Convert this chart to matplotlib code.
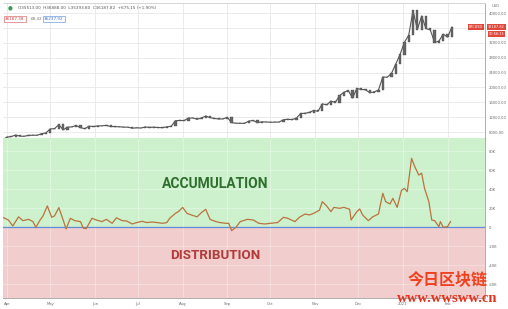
import numpy as np
import pandas as pd
import matplotlib
matplotlib.use("Agg")
import matplotlib.pyplot as plt
import matplotlib.dates as mdates

plt.rcParams['font.family'] = ['DejaVu Sans', 'Noto Sans CJK SC']

# BTCUSD closes, every 3 days from 2020-03-29
closes = [5880,
          6640, 6780, 7200, 6860, 6850, 7100, 7130, 7120, 7540, 7760,          # Apr
          8820, 8900, 9980, 8600, 9300, 9380, 9730, 9170, 8890, 9580, 9460,    # May
          9650, 9670, 9780, 9470, 9440, 9410, 9300, 9300, 9010, 9140,          # Jun
          9070, 9350, 9250, 9300, 9200, 9170, 9390, 9540, 11030, 11110,        # Jul
          11070, 11750, 11780, 11410, 11770, 12300, 11860, 11660, 11480, 11530,  # Aug
          11930, 10510, 10370, 10340, 10330, 10950, 11080, 10530, 10740, 10690,  # Sep
          10620, 10670, 10670, 11300, 11430, 11320, 11750, 12980, 13030, 13280, 13800,  # Oct
          13560, 15580, 15300, 16300, 15960, 17800, 18680, 19160, 17150, 19700,  # Nov
          19450, 19360, 18550, 18800, 19270, 22800, 22720, 23730, 26280, 28840,  # Dec
          32130, 34000, 40670, 35570, 39190, 35830, 35470, 32070, 32470, 34320,  # Jan
          33530, 36190]                                                        # Feb
price_dates = pd.date_range("2020-03-29", periods=len(closes), freq="3D")

# accumulation / distribution oscillator (thousands)
ind_dates = ["2020-03-29", "2020-04-02", "2020-04-05", "2020-04-09", "2020-04-12", "2020-04-16",
             "2020-04-19", "2020-04-21", "2020-04-24", "2020-04-26", "2020-04-29", "2020-05-02",
             "2020-05-04", "2020-05-07", "2020-05-10", "2020-05-12", "2020-05-15", "2020-05-18",
             "2020-05-22", "2020-05-24", "2020-05-26", "2020-05-30", "2020-06-02", "2020-06-06",
             "2020-06-09", "2020-06-13", "2020-06-16", "2020-06-20", "2020-06-23", "2020-06-27",
             "2020-06-30", "2020-07-04", "2020-07-07", "2020-07-11", "2020-07-14", "2020-07-18",
             "2020-07-21", "2020-07-23", "2020-07-27", "2020-07-29", "2020-08-01", "2020-08-04",
             "2020-08-07", "2020-08-11", "2020-08-14", "2020-08-17", "2020-08-20", "2020-08-24",
             "2020-08-27", "2020-08-31", "2020-09-02", "2020-09-04", "2020-09-07", "2020-09-10",
             "2020-09-15", "2020-09-19", "2020-09-23", "2020-09-27", "2020-10-01", "2020-10-06",
             "2020-10-10", "2020-10-13", "2020-10-18", "2020-10-21", "2020-10-25", "2020-10-28",
             "2020-10-31", "2020-11-04", "2020-11-06", "2020-11-09", "2020-11-12", "2020-11-14",
             "2020-11-18", "2020-11-21", "2020-11-25", "2020-11-26", "2020-11-30", "2020-12-02",
             "2020-12-04", "2020-12-08", "2020-12-11", "2020-12-15", "2020-12-18", "2020-12-20",
             "2020-12-23", "2020-12-25", "2020-12-28", "2020-12-31", "2021-01-02", "2021-01-04",
             "2021-01-07", "2021-01-09", "2021-01-12", "2021-01-14", "2021-01-16", "2021-01-19",
             "2021-01-21", "2021-01-23", "2021-01-26", "2021-01-27", "2021-01-29", "2021-02-01",
             "2021-02-03"]
ind_vals = [10.5, 7.7, 1.4, 11, 7, 8.4,
            6, 0, 7.7, 12, 22.5, 10.5,
            12, 20.7, 7.7, -1.8, 9.5, 7,
            6, -1, -1.4, 9.5, 7.7, 6,
            8.4, 4.2, 10, 7, 6.7, 3.5,
            5, 6.3, 5, 5.6, 5, 4.2,
            5, 9.5, 14.7, 16.5, 21, 14.7,
            13, 11, 15.4, 19, 8.4, 6,
            5, 4.2, 4.2, -3.5, 0, 6,
            8.4, 7.7, 4.2, 3.5, 4.2, 5,
            10.5, 9.5, 6, 10.5, 14, 13,
            14.7, 18, 27, 22.5, 16.5, 21,
            20, 21, 19, 7.7, 16.5, 19.3,
            13, 7, 11, 14, 35.8, 27,
            24.6, 30.5, 21, 39, 41, 37.5,
            72.6, 64.6, 55, 57, 41, 27,
            7.7, 7, 0.7, 6, 0, 0.7,
            6]

price_ticks = [8000, 12000, 16000, 20000, 24000, 28000, 32000, 36000, 40000]
ind_ticks = [-60, -40, -20, 0, 20, 40, 60, 80]
ind_labels = ["-60K", "-40K", "-20K", "0", "20K", "40K", "60K", "80K"]
month_ticks = pd.date_range("2020-04-01", "2021-02-01", freq="MS")
month_labels = ["Apr", "May", "Jun", "Jul", "Aug", "Sep", "Oct", "Nov", "Dec", "2021", "Feb"]

W, H = 508, 309
fig = plt.figure(figsize=(W / 100, H / 100), dpi=100)
fig.patch.set_facecolor("white")

x0 = mdates.date2num(pd.Timestamp("2020-03-29 05:00"))
x1 = mdates.date2num(pd.Timestamp("2021-02-27"))
grid_c = "#e8e8e8"
lab_c = "#6a6a6a"

ax1 = fig.add_axes([3 / W, 1 - 138 / H, 482 / W, 135 / H])
ax2 = fig.add_axes([3 / W, 1 - 298 / H, 482 / W, 160 / H])

for ax in (ax1, ax2):
    ax.set_xlim(x0, x1)
    ax.set_xticks(mdates.date2num(month_ticks))
    ax.yaxis.tick_right()
    ax.tick_params(length=0, labelsize=2.7, labelcolor=lab_c, pad=2.5)
    for s in ("left",):
        ax.spines[s].set_visible(False)
    for s in ("right", "bottom", "top"):
        ax.spines[s].set_color("#a0a0a0")
        ax.spines[s].set_linewidth(0.6)
    ax.grid(True, color=grid_c, linewidth=0.6)
    ax.set_axisbelow(True)
ax2.spines["top"].set_visible(False)
ax1.spines["top"].set_color("#d0d0d0")

# price panel
ax1.set_ylim(6387, 42700)
ax1.set_yticks(price_ticks)
ax1.set_yticklabels(["%.2f" % p for p in price_ticks])
ax1.set_xticklabels([])
pd_num = mdates.date2num(price_dates)
opens = [closes[0]] + closes[:-1]
ax1.plot(pd_num, closes, color="#555555", linewidth=0.8, zorder=3)
for xi, o, c in zip(pd_num, opens, closes):
    ax1.bar(xi, abs(c - o) + 80, bottom=min(o, c) - 40, width=1.6,
            color="#666666", edgecolor="#444444", linewidth=0.25, zorder=4)

# indicator panel
ax2.set_ylim(-74.4, 94.0)
ax2.axhspan(0, 94.0, color="#cdf1cd", zorder=0)
ax2.axhspan(-74.4, 0, color="#f1cdcd", zorder=0)
ax2.grid(True, color="#ffffff", linewidth=0.5, alpha=0.45)
ax2.set_yticks(ind_ticks)
ax2.set_yticklabels(ind_labels)
ax2.set_xticklabels(month_labels)
ax2.tick_params(axis="x", pad=3)
ax2.axhline(0, color="#5b8fd8", linewidth=0.9, zorder=2)
ax2.plot(mdates.date2num(pd.to_datetime(ind_dates)), ind_vals, color="#b9733d",
         linewidth=0.9, zorder=3)
ax2.text(0.44, 0.712, "ACCUMULATION", transform=ax2.transAxes, ha="center", va="center",
         fontsize=10, fontweight="bold", family="Roboto", color="#2f6e2f")
ax2.text(0.44, 0.264, "DISTRIBUTION", transform=ax2.transAxes, ha="center", va="center",
         fontsize=9.6, fontweight="bold", family="Roboto", color="#b03c3c")

# header / legend
fig.text(10 / W, 1 - 8 / H, "\u25cf", fontsize=4, color="#3a9a5a", ha="center", va="center")
fig.text(18 / W, 1 - 8 / H, "O35513.00  H36888.00  L35393.80  C36187.82  +675.15 (+1.90%)",
         fontsize=3.0, color="#555555", va="center")
fig.text(5 / W, 1 - 19 / H, "36187.38", fontsize=3.0, color="#d04040", va="center",
         bbox=dict(boxstyle="square,pad=0.35", fc="white", ec="#e07070", lw=0.5))
fig.text(31 / W, 1 - 19 / H, "68.42", fontsize=3.0, color="#777777", va="center")
fig.text(44 / W, 1 - 19 / H, "36237.92", fontsize=3.0, color="#4070c0", va="center",
         bbox=dict(boxstyle="square,pad=0.35", fc="white", ec="#70a0e0", lw=0.5))

# right price tags
fig.text(496 / W, 1 - 6 / H, "USD", fontsize=2.6, color=lab_c, ha="center", va="center")
fig.text(476 / W, 1 - 27 / H, "BTCUSD", fontsize=2.5, color="white", ha="center", va="center",
         bbox=dict(boxstyle="square,pad=0.3", fc="#e0483c", ec="none"))
fig.text(496.5 / W, 1 - 27 / H, "36187.82", fontsize=2.5, color="white", ha="center", va="center",
         bbox=dict(boxstyle="square,pad=0.3", fc="#e0483c", ec="none"))
fig.text(496.5 / W, 1 - 34 / H, "00:56:15", fontsize=2.5, color="white", ha="center", va="center",
         bbox=dict(boxstyle="square,pad=0.3", fc="#e0483c", ec="none"))

# watermark
fig.text(448 / W, 1 - 279 / H, "今日区块链", fontsize=11.5, fontweight="bold",
         family=["Noto Sans CJK SC"], color="#f0401e", ha="center", va="center")
fig.text(447 / W, 1 - 298 / H, "www.wwsww.cn", fontsize=10.5, fontweight="bold",
         family=["Liberation Serif"], color="#e8301a", ha="center", va="center")

fig.savefig("out.png", dpi=100)
